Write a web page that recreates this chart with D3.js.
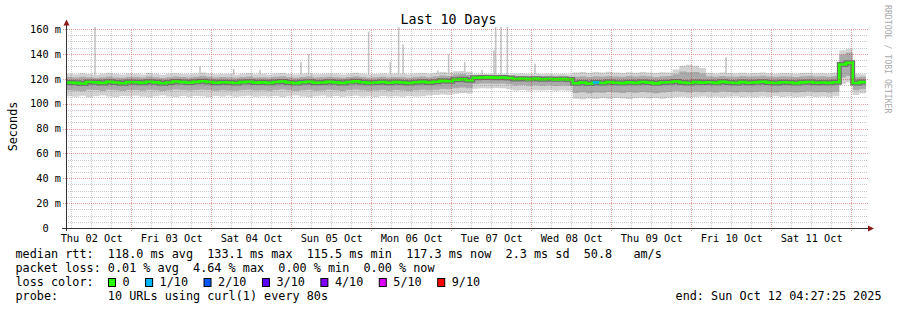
<!DOCTYPE html>
<html>
<head>
<meta charset="utf-8">
<script src="https://cdn.jsdelivr.net/npm/d3@7"></script>
<style>
body { margin: 0; background: #fff; }
svg text { font-family: "DejaVu Sans Mono", monospace; white-space: pre; }
</style>
</head>
<body>
<svg id="chart" width="897" height="310"></svg>
<script>
// SmokePing style "Last 10 Days" latency graph

var startTime = new Date("2025-10-02T04:27:25Z");
var endTime = new Date("2025-10-12T04:27:25Z");
var stepHours = 2;

// median rtt per 2h step (ms)
var med = [
	117.0, 116.7, 116.2, 117.4, 117.1, 116.6, 117.5, 117.0, 116.4, 117.3,
	117.2, 116.7, 117.6, 117.1, 116.4, 117.0, 117.8, 117.3, 116.9, 117.5,
	118.0, 117.4, 116.8, 117.2, 117.0, 116.6, 117.3, 117.6, 116.9, 117.1,
	116.7, 117.4, 117.8, 117.0, 116.5, 117.2, 117.6, 116.8, 117.0, 117.5,
	117.1, 116.6, 117.3, 117.9, 117.2, 116.7, 117.0, 117.4, 116.8, 117.3,
	117.0, 116.6, 117.2, 117.5, 117.0, 117.6, 118.3, 118.0, 119.2, 119.6,
	118.8, 120.8, 121.0, 121.1, 120.9, 121.0, 120.6, 119.8, 120.0, 119.7,
	119.9, 119.6, 119.8, 119.5, 119.7, 119.4, 116.4, 116.9, 116.2, 117.0,
	116.6, 117.3, 116.8, 116.5, 117.1, 116.7, 117.4, 116.9, 116.3, 117.0,
	117.2, 117.8, 117.0, 116.6, 117.3, 116.9, 117.2, 116.7, 117.5, 117.0,
	116.6, 117.3, 116.8, 117.1, 117.6, 116.9, 116.6, 117.2, 117.0, 116.5,
	117.1, 117.4, 116.8, 117.0, 116.7, 117.2, 131.4, 132.8, 116.6, 117.3
];
// slowest ping per step (outer smoke, top)
var hi = [
	124.0, 123.6, 124.4, 123.8, 123.2, 124.0, 124.8, 123.9, 123.5, 124.2,
	124.1, 123.4, 124.6, 123.9, 123.2, 124.0, 124.5, 123.8, 123.6, 124.3,
	125.0, 124.2, 123.6, 124.0, 123.8, 123.3, 124.1, 124.6, 123.7, 124.0,
	123.5, 124.2, 124.7, 123.9, 123.4, 124.0, 124.4, 123.6, 123.8, 124.3,
	124.0, 123.5, 124.1, 124.8, 124.0, 123.4, 123.9, 124.3, 123.6, 124.2,
	124.0, 123.6, 124.3, 124.6, 124.1, 124.8, 125.4, 125.0, 126.0, 126.2,
	125.6, 123.6, 123.8, 123.9, 123.7, 123.8, 123.5, 124.0, 124.2, 123.9,
	124.1, 123.8, 124.0, 123.7, 123.9, 123.6, 125.0, 125.4, 124.8, 125.5,
	125.1, 125.6, 125.0, 124.7, 125.3, 124.9, 125.5, 125.0, 124.6, 125.2,
	125.0, 127.5, 130.5, 131.2, 130.4, 128.6, 124.8, 124.3, 125.0, 124.6,
	124.2, 124.8, 124.3, 124.6, 125.0, 124.4, 124.1, 124.7, 124.5, 124.0,
	124.6, 124.9, 124.3, 124.5, 124.2, 125.0, 143.0, 144.2, 124.0, 123.6
];
// fastest ping per step (outer smoke, bottom)
var lo = [
	106.0, 105.6, 106.4, 105.2, 106.0, 106.6, 105.8, 105.4, 106.2, 105.9,
	106.3, 105.7, 105.2, 106.0, 106.5, 105.8, 105.4, 106.1, 105.6, 106.2,
	105.9, 105.4, 106.2, 105.8, 106.4, 105.6, 105.9, 106.3, 105.5, 106.0,
	105.7, 106.2, 105.4, 105.9, 106.5, 105.8, 105.3, 106.0, 106.3, 105.6,
	106.1, 105.5, 105.9, 106.4, 105.7, 106.0, 105.4, 106.2, 105.8, 106.0,
	105.6, 106.2, 105.8, 106.0, 106.6, 106.9, 107.4, 107.0, 108.0, 108.6,
	108.2, 112.0, 112.4, 112.2, 112.6, 112.3, 111.6, 110.6, 110.9, 110.4,
	110.8, 110.5, 110.9, 110.3, 110.7, 110.4, 104.0, 103.6, 104.2, 103.8,
	104.4, 103.9, 104.5, 104.1, 103.7, 104.3, 104.8, 104.2, 104.6, 104.0,
	104.8, 105.2, 105.6, 105.0, 105.4, 105.8, 105.2, 105.6, 105.0, 105.5,
	105.8, 105.2, 105.6, 105.1, 105.7, 105.3, 105.9, 105.4, 105.7, 105.2,
	105.6, 105.9, 105.4, 105.8, 105.3, 106.0, 116.0, 117.0, 107.0, 108.4
];
// inner smoke band (upper)
var hi2 = [
	121.4, 121.0, 121.6, 121.2, 120.8, 121.3, 121.9, 121.1, 120.9, 121.5,
	121.5, 121.0, 121.8, 121.3, 120.7, 121.2, 121.9, 121.4, 121.1, 121.6,
	122.4, 121.6, 121.0, 121.4, 121.2, 120.9, 121.5, 121.8, 121.1, 121.3,
	121.0, 121.6, 122.0, 121.3, 120.8, 121.4, 121.8, 121.0, 121.2, 121.6,
	121.3, 120.9, 121.5, 122.1, 121.4, 120.9, 121.2, 121.6, 121.0, 121.5,
	121.2, 120.9, 121.4, 121.8, 121.3, 122.0, 122.6, 122.3, 123.4, 123.8,
	123.0, 122.6, 122.8, 122.9, 122.7, 122.8, 122.5, 122.0, 122.2, 121.9,
	122.1, 121.8, 122.0, 121.7, 121.9, 121.6, 121.6, 122.0, 121.5, 122.1,
	121.8, 122.3, 121.9, 121.6, 122.2, 121.8, 122.4, 122.0, 121.5, 122.1,
	122.2, 123.6, 125.8, 125.2, 125.5, 124.3, 122.0, 121.6, 122.3, 121.9,
	121.6, 122.2, 121.8, 122.0, 122.5, 121.9, 121.6, 122.1, 121.9, 121.5,
	122.0, 122.3, 121.8, 122.0, 121.7, 122.2, 139.4, 141.2, 121.4, 121.6
];
// inner smoke band (lower)
var lo2 = [
	110.8, 110.4, 110.0, 111.2, 110.9, 110.2, 111.1, 110.7, 110.1, 110.9,
	110.9, 110.3, 111.1, 110.8, 110.2, 110.7, 111.4, 110.9, 110.5, 111.0,
	111.2, 110.9, 110.4, 110.8, 110.6, 110.3, 110.9, 111.2, 110.5, 110.8,
	110.4, 111.0, 111.3, 110.7, 110.1, 110.8, 111.2, 110.4, 110.6, 111.1,
	110.8, 110.2, 110.9, 111.4, 110.8, 110.3, 110.6, 111.0, 110.4, 110.9,
	110.6, 110.2, 110.8, 111.1, 110.7, 111.2, 111.8, 111.5, 112.4, 112.9,
	112.3, 115.8, 116.2, 116.1, 116.0, 116.2, 115.6, 114.6, 114.9, 114.4,
	114.7, 114.4, 114.8, 114.2, 114.6, 114.3, 108.6, 109.1, 108.3, 109.0,
	108.7, 109.3, 108.9, 108.5, 109.1, 108.8, 109.4, 108.9, 108.4, 109.0,
	109.3, 109.9, 109.6, 109.0, 109.5, 109.2, 109.5, 109.0, 109.7, 109.3,
	109.0, 109.6, 109.1, 109.4, 109.8, 109.2, 108.9, 109.5, 109.3, 108.9,
	109.4, 109.7, 109.1, 109.3, 109.0, 109.5, 121.0, 122.2, 110.8, 111.5
];
// lost pings (out of 10) per step
var loss = [
	0,0,0,0,0,0,0,0,0,0, 0,0,0,0,0,0,0,0,0,0, 0,0,0,0,0,0,0,0,0,0,
	0,0,0,0,0,0,0,0,0,0, 0,0,0,0,0,0,0,0,0,0, 0,0,0,0,0,0,0,0,0,0,
	0,0,0,0,0,0,0,0,0,0, 0,0,0,0,0,0,0,0,0,1, 0,0,0,0,0,0,0,0,0,0,
	0,0,0,0,0,0,0,0,0,0, 0,0,0,0,0,0,0,0,0,0, 0,0,0,0,0,0,0,0,0,0
];
// single slow outliers
var spikeTimes = ["2025-10-02T13:10:00Z", "2025-10-03T20:40:00Z", "2025-10-04T06:45:00Z", "2025-10-04T14:40:00Z",
	"2025-10-05T02:58:00Z", "2025-10-05T05:15:00Z", "2025-10-05T23:15:00Z", "2025-10-06T05:45:00Z",
	"2025-10-06T08:15:00Z", "2025-10-06T09:35:00Z", "2025-10-06T19:58:00Z", "2025-10-06T23:15:00Z",
	"2025-10-07T04:04:00Z", "2025-10-07T09:15:00Z", "2025-10-07T12:52:00Z", "2025-10-07T13:22:00Z",
	"2025-10-07T14:58:00Z", "2025-10-07T16:52:00Z", "2025-10-08T01:10:00Z", "2025-10-10T10:28:00Z"];
var spikeValues = [162, 130, 128, 127, 133.5, 139.7, 158, 133.5, 162, 147.5, 126.7, 139.7, 133.5, 127, 143, 162, 162, 162, 132, 137.5];

var yTicks = [0, 20, 40, 60, 80, 100, 120, 140, 160];
var statNames = ["avg", "max", "min", "now"];
var rttStats = [118.0, 133.1, 115.5, 117.3];
var rttSd = 2.3, rttAmS = 50.8;
var lossStats = [0.01, 4.64, 0.00, 0.00];
var lossLabels = ["0", "1/10", "2/10", "3/10", "4/10", "5/10", "9/10"];
var lossColors = ["#26ff00", "#00b8ff", "#0059ff", "#5e00ff", "#7e00ff", "#dd00ff", "#ff0000"];
var lossLevels = [0, 1, 2, 3, 4, 5, 9];

function draw() {
	var svg = d3.select("#chart");
	var x = d3.scaleUtc().domain([startTime, endTime]).range([66, 866]);
	var y = d3.scaleLinear().domain([0, 160]).range([228, 29]);

	svg.append("rect").attr("width", 897).attr("height", 310).attr("fill", "#fff");

	var steps = med.map((m, i) => ({
		t: d3.utcHour.offset(startTime, i * stepHours),
		med: m, lo: lo[i], hi: hi[i], lo2: lo2[i], hi2: hi2[i], loss: loss[i]
	}));
	var last = steps[steps.length - 1];
	var pts = steps.concat([Object.assign({}, last, {t: endTime})]);

	svg.append("clipPath").attr("id", "plotclip")
		.append("rect").attr("x", 66).attr("y", 27).attr("width", 800).attr("height", 201);
	var plot = svg.append("g").attr("clip-path", "url(#plotclip)");

	// outliers
	plot.selectAll("line.spike")
		.data(spikeTimes.map((s, i) => ({t: new Date(s), v: spikeValues[i]})))
		.enter().append("line")
		.attr("x1", d => x(d.t)).attr("x2", d => x(d.t))
		.attr("y1", y(118)).attr("y2", d => y(d.v))
		.attr("stroke", "#c4c4c4").attr("stroke-width", 1.6);

	// smoke
	var band = (a, b) => d3.area().curve(d3.curveStepAfter)
		.x(d => x(d.t)).y0(d => y(d[a])).y1(d => y(d[b]));
	plot.append("path").datum(pts).attr("d", band("lo", "hi")).attr("fill", "#d2d2d2");
	plot.append("path").datum(pts).attr("d", band("lo2", "hi2")).attr("fill", "#aaaaaa");

	var medLine = d3.line().curve(d3.curveStepAfter).x(d => x(d.t)).y(d => y(d.med));
	plot.append("path").datum(pts).attr("d", medLine)
		.attr("fill", "none").attr("stroke", "#707070").attr("stroke-width", 5);
	plot.append("path").datum(pts).attr("d", medLine)
		.attr("fill", "none").attr("stroke", lossColors[0]).attr("stroke-width", 2.6);

	// steps that lost pings get the loss colour
	plot.selectAll("line.loss")
		.data(steps.map((d, i) => Object.assign({t2: pts[i + 1].t}, d)).filter(d => d.loss > 0))
		.enter().append("line")
		.attr("x1", d => x(d.t)).attr("x2", d => x(d.t2))
		.attr("y1", d => y(d.med)).attr("y2", d => y(d.med))
		.attr("stroke", d => lossColors[lossLevels.findIndex(l => l >= d.loss)])
		.attr("stroke-width", 2.6);

	// grid, drawn over the smoke like rrdtool does
	var grid = svg.append("g").attr("stroke-dasharray", "1,1").attr("stroke-width", 1);
	var px = v => Math.round(v) + 0.5;
	var hours = d3.utcHour.every(6).range(startTime, endTime);
	grid.selectAll("line.vmin").data(hours.filter(d => d.getUTCHours() != 0)).enter().append("line")
		.attr("x1", d => px(x(d))).attr("x2", d => px(x(d))).attr("y1", 228).attr("y2", 29)
		.attr("stroke", "rgba(128,128,128,0.42)");
	grid.selectAll("line.vmaj").data(hours.filter(d => d.getUTCHours() == 0)).enter().append("line")
		.attr("x1", d => px(x(d))).attr("x2", d => px(x(d))).attr("y1", 231).attr("y2", 29)
		.attr("stroke", "rgba(205,40,40,0.45)");
	var minorY = d3.range(5, 160, 5).filter(v => v % 20 != 0);
	grid.selectAll("line.hmin").data(minorY).enter().append("line")
		.attr("x1", 66).attr("x2", 868).attr("y1", d => px(y(d))).attr("y2", d => px(y(d)))
		.attr("stroke", "rgba(128,128,128,0.42)");
	grid.selectAll("line.hmaj").data(yTicks.filter(v => v > 0)).enter().append("line")
		.attr("x1", 63).attr("x2", 869).attr("y1", d => px(y(d))).attr("y2", d => px(y(d)))
		.attr("stroke", "rgba(205,40,40,0.45)");

	// axes
	var yAxis = svg.append("g").attr("transform", "translate(66,0)")
		.call(d3.axisLeft(y).tickValues(yTicks).tickSize(0).tickPadding(5)
			.tickFormat(v => v == 0 ? "0\u00a0\u00a0" : v + " m"));
	var noons = d3.utcDay.range(d3.utcDay.floor(startTime), endTime)
		.map(d => d3.utcHour.offset(d, 12)).filter(d => d >= startTime && d <= endTime);
	var xAxis = svg.append("g").attr("transform", "translate(0,228)")
		.call(d3.axisBottom(x).tickValues(noons).tickSize(0).tickPadding(6.4)
			.tickFormat(d3.utcFormat("%a %d %b")));
	[yAxis, xAxis].forEach(a => {
		a.select(".domain").remove();
		a.attr("font-family", "DejaVu Sans Mono").attr("font-size", 10.3);
		a.selectAll("text").attr("fill", "#000");
	});

	svg.append("line").attr("x1", 66.5).attr("x2", 66.5).attr("y1", 231).attr("y2", 24)
		.attr("stroke", "#333");
	svg.append("line").attr("x1", 62).attr("x2", 869).attr("y1", 228.5).attr("y2", 228.5)
		.attr("stroke", "#333");
	svg.append("path").attr("d", "M63.5,25.5L69.5,25.5L66.5,19.5Z").attr("fill", "#8b1a1a");
	svg.append("path").attr("d", "M868,225.5L868,231.5L874,228.5Z").attr("fill", "#8b1a1a");

	// titles
	svg.append("text").attr("x", 448.5).attr("y", 24).attr("text-anchor", "middle")
		.attr("font-size", 13.3).text("Last 10 Days");
	svg.append("text").attr("transform", "translate(16.5,126.5) rotate(-90)")
		.attr("text-anchor", "middle").attr("font-size", 11.8).text("Seconds");
	svg.append("text").attr("transform", "translate(885,5) rotate(90)")
		.attr("font-size", 8.2).attr("fill", "#aaaaaa").text("RRDTOOL / TOBI OETIKER");

	// legend
	var f1 = v => v.toFixed(1), f2 = v => v.toFixed(2);
	var row1 = "median rtt:  " + rttStats.map((v, i) => f1(v) + " ms " + statNames[i]).join("  ")
		+ "  " + f1(rttSd) + " ms sd  " + f1(rttAmS) + "   am/s";
	var row2 = "packet loss: " + lossStats.map((v, i) => f2(v) + " % " + statNames[i]).join("  ");
	var legend = svg.append("g").attr("font-size", 11.8);
	legend.append("text").attr("x", 15.5).attr("y", 258.3).text(row1);
	legend.append("text").attr("x", 15.5).attr("y", 272.3).text(row2);
	legend.append("text").attr("x", 15.5).attr("y", 286.3).text("loss color:");
	legend.append("text").attr("x", 15.5).attr("y", 300).text("probe:       10 URLs using curl(1) every 80s");
	legend.append("text").attr("x", 881.5).attr("y", 300).attr("text-anchor", "end")
		.text("end: Sun Oct 12 04:27:25 2025");

	var cx = 108.5;
	lossLabels.forEach((lab, i) => {
		legend.append("rect").attr("x", cx).attr("y", 278.5).attr("width", 7).attr("height", 8)
			.attr("fill", lossColors[i]).attr("stroke", "#000").attr("stroke-width", 1);
		var t = legend.append("text").attr("x", cx + 14).attr("y", 286.3).text(lab);
		cx = cx + 14 + t.node().getComputedTextLength() + 16;
	});
}

draw();
</script>
</body>
</html>
